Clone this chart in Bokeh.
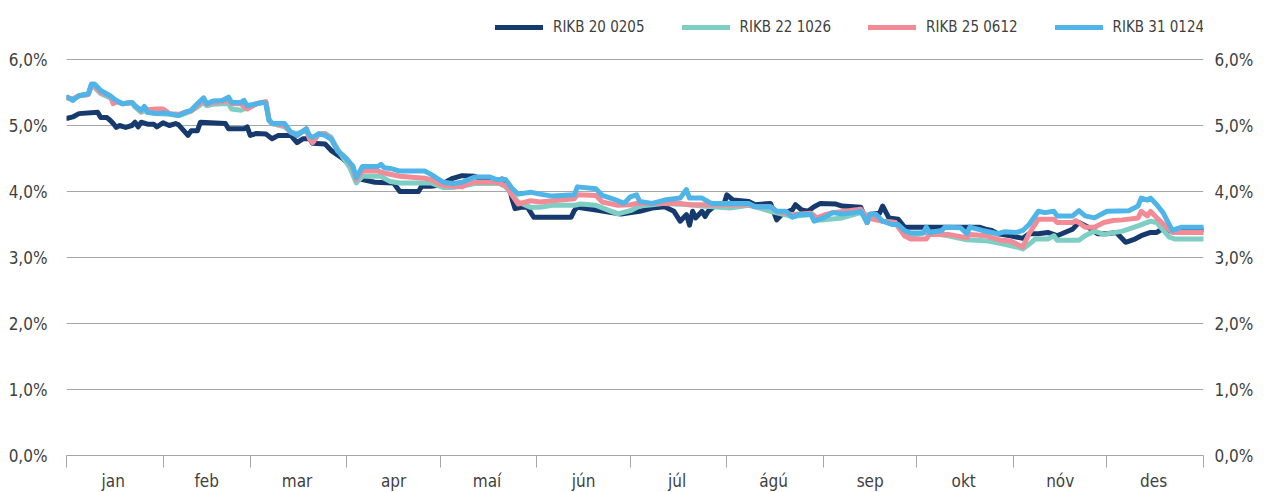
from bokeh.plotting import figure
from bokeh.models import (ColumnDataSource, FixedTicker, LinearAxis, Legend, LegendItem)
from bokeh.embed import file_html
from bokeh.resources import INLINE

# ---- data (x = day of year, y = yield in %) ----
months = ["jan", "feb", "mar", "apr", "maí", "jún", "júl", "ágú", "sep", "okt", "nóv", "des"]
month_starts = [0, 31, 59, 90, 120, 151, 181, 212, 243, 273, 304, 334, 365]
month_mids = [15, 45, 74, 105, 135, 166, 196, 227, 258, 288, 319, 349]
y_ticks = [0, 1, 2, 3, 4, 5, 6]
y_labels = ["0,0%", "1,0%", "2,0%", "3,0%", "4,0%", "5,0%", "6,0%"]

series_names = ["RIKB 20 0205", "RIKB 22 1026", "RIKB 25 0612", "RIKB 31 0124"]
series_colors = ["#173A6E", "#7FCEC4", "#F38B96", "#4FB4E7"]

rikb20_day = [0.3, 2, 4, 10, 11, 13, 14, 15, 16, 17, 19, 21, 22, 23, 24, 26, 28, 29, 31, 33, 35, 36, 39, 40, 42,
              43, 51, 52, 57, 58, 59, 61, 64, 66, 68, 72, 74, 76, 78, 79, 83, 85, 89, 91, 93, 95, 99, 105, 107, 113,
              114, 117, 120, 124, 127, 131, 133, 136, 138, 140, 142, 143, 144, 146, 148, 150, 162, 163, 164, 170,
              175, 178, 184, 188, 192, 195, 197, 199, 200, 201, 202, 204, 205, 206, 208, 211, 212, 214, 219, 221,
              226, 228, 230, 233, 234, 236, 238, 240, 242, 247, 249, 255, 257, 258, 261, 262, 264, 267, 269, 293,
              295, 297, 299, 303, 307, 309, 312, 315, 318, 322, 323, 325, 328, 331, 334, 337, 340, 343, 345, 348,
              350, 352, 354, 365]
rikb20_yield = [5.11, 5.13, 5.18, 5.20, 5.12, 5.12, 5.08, 5.03, 4.97, 5.00, 4.97, 5.00, 5.05, 4.98, 5.05, 5.02, 5.02,
                4.98, 5.04, 5.00, 5.03, 5.01, 4.85, 4.92, 4.92, 5.05, 5.03, 4.95, 4.95, 4.98, 4.85, 4.88, 4.87,
                4.80, 4.85, 4.85, 4.74, 4.80, 4.80, 4.73, 4.72, 4.62, 4.49, 4.39, 4.22, 4.18, 4.14, 4.13, 4.00,
                4.00, 4.08, 4.08, 4.10, 4.20, 4.24, 4.23, 4.19, 4.19, 4.17, 4.19, 4.10, 3.89, 3.74, 3.76, 3.76,
                3.61, 3.61, 3.71, 3.76, 3.72, 3.68, 3.66, 3.70, 3.75, 3.77, 3.70, 3.55, 3.65, 3.49, 3.70, 3.60,
                3.70, 3.62, 3.70, 3.78, 3.80, 3.95, 3.87, 3.85, 3.80, 3.82, 3.57, 3.67, 3.72, 3.80, 3.72, 3.70,
                3.77, 3.82, 3.81, 3.78, 3.76, 3.53, 3.65, 3.67, 3.78, 3.60, 3.58, 3.46, 3.46, 3.43, 3.41, 3.36,
                3.33, 3.29, 3.36, 3.36, 3.38, 3.33, 3.41, 3.43, 3.53, 3.46, 3.36, 3.36, 3.38, 3.23, 3.28, 3.33,
                3.38, 3.38, 3.44, 3.40, 3.42]

rikb22_day = [0.3, 2, 4, 7, 8, 9, 11, 14, 16, 18, 21, 22, 24, 25, 26, 29, 33, 36, 38, 40, 42, 44, 45, 47, 50, 52,
              53, 56, 58, 61, 64, 65, 66, 70, 72, 74, 77, 78, 79, 81, 83, 85, 87, 91, 93, 95, 101, 102, 104, 107,
              117, 121, 124, 128, 131, 139, 141, 145, 149, 152, 156, 163, 165, 170, 177, 181, 184, 188, 192, 200,
              204, 213, 219, 221, 226, 233, 239, 241, 243, 249, 255, 262, 266, 269, 271, 276, 283, 289, 296, 300,
              305, 307, 309, 311, 315, 317, 318, 325, 327, 330, 333, 339, 344, 348, 350, 354, 356, 365]
rikb22_yield = [5.42, 5.40, 5.45, 5.47, 5.60, 5.58, 5.48, 5.42, 5.36, 5.33, 5.35, 5.28, 5.20, 5.23, 5.20, 5.18, 5.17,
                5.15, 5.18, 5.22, 5.28, 5.35, 5.30, 5.32, 5.33, 5.33, 5.25, 5.23, 5.27, 5.33, 5.36, 5.10, 5.03,
                4.98, 4.90, 4.88, 4.92, 4.82, 4.80, 4.88, 4.88, 4.82, 4.64, 4.36, 4.13, 4.23, 4.23, 4.20, 4.15,
                4.13, 4.13, 4.06, 4.06, 4.09, 4.12, 4.12, 4.07, 3.84, 3.76, 3.76, 3.79, 3.79, 3.81, 3.79, 3.66,
                3.71, 3.78, 3.80, 3.82, 3.80, 3.78, 3.75, 3.79, 3.77, 3.70, 3.62, 3.65, 3.57, 3.57, 3.60, 3.68,
                3.55, 3.53, 3.36, 3.33, 3.38, 3.33, 3.27, 3.25, 3.21, 3.16, 3.13, 3.20, 3.28, 3.28, 3.33, 3.26,
                3.26, 3.33, 3.40, 3.35, 3.40, 3.48, 3.55, 3.53, 3.31, 3.28, 3.28]

rikb25_day = [0.3, 2, 4, 7, 8, 9, 11, 14, 15, 16, 18, 21, 22, 24, 25, 26, 29, 31, 33, 36, 38, 40, 42, 44, 45, 47,
              50, 52, 53, 56, 58, 61, 64, 65, 66, 70, 72, 74, 77, 78, 79, 81, 83, 85, 87, 90, 92, 93, 95, 100, 102,
              107, 115, 117, 121, 124, 127, 129, 131, 138, 141, 143, 145, 149, 152, 156, 163, 164, 170, 172, 177,
              181, 183, 188, 197, 200, 204, 219, 221, 226, 228, 233, 239, 241, 243, 246, 255, 257, 262, 266, 269,
              271, 276, 277, 283, 289, 290, 295, 300, 303, 307, 309, 312, 317, 318, 323, 324, 327, 330, 333, 336,
              339, 344, 345, 347, 348, 350, 355, 365]
rikb25_yield = [5.42, 5.40, 5.45, 5.47, 5.60, 5.60, 5.50, 5.45, 5.33, 5.36, 5.33, 5.35, 5.30, 5.22, 5.27, 5.24, 5.25,
                5.25, 5.18, 5.17, 5.20, 5.22, 5.30, 5.39, 5.32, 5.35, 5.36, 5.38, 5.33, 5.33, 5.25, 5.33, 5.36,
                5.08, 5.03, 5.00, 4.90, 4.85, 4.95, 4.80, 4.74, 4.87, 4.87, 4.80, 4.62, 4.49, 4.35, 4.18, 4.31,
                4.31, 4.28, 4.23, 4.20, 4.18, 4.09, 4.08, 4.07, 4.12, 4.14, 4.14, 4.09, 3.95, 3.81, 3.86, 3.84,
                3.86, 3.89, 3.95, 3.94, 3.84, 3.79, 3.80, 3.82, 3.82, 3.82, 3.80, 3.80, 3.80, 3.77, 3.77, 3.70,
                3.65, 3.67, 3.60, 3.64, 3.68, 3.73, 3.60, 3.55, 3.53, 3.33, 3.28, 3.28, 3.35, 3.35, 3.30, 3.35,
                3.33, 3.26, 3.25, 3.16, 3.36, 3.58, 3.58, 3.53, 3.53, 3.56, 3.46, 3.46, 3.53, 3.56, 3.57, 3.60,
                3.70, 3.63, 3.70, 3.60, 3.38, 3.38]

rikb31_day = [0.3, 2, 4, 7, 8, 9, 11, 14, 16, 18, 21, 22, 24, 25, 26, 29, 31, 33, 36, 38, 40, 42, 44, 45, 47, 50,
              52, 53, 56, 57, 58, 61, 63, 64, 65, 66, 70, 72, 74, 77, 78, 79, 81, 83, 85, 87, 90, 92, 93, 95, 100,
              101, 102, 104, 107, 115, 117, 121, 124, 127, 131, 136, 138, 141, 143, 145, 149, 152, 156, 163, 164,
              170, 172, 177, 179, 181, 183, 184, 188, 192, 197, 199, 200, 204, 207, 219, 221, 226, 228, 231, 233,
              235, 239, 240, 243, 246, 249, 253, 255, 257, 258, 260, 262, 265, 267, 269, 271, 275, 276, 277, 281,
              282, 287, 289, 290, 294, 299, 301, 305, 307, 309, 312, 314, 317, 318, 323, 325, 327, 330, 334, 341,
              344, 345, 347, 348, 350, 352, 355, 358, 365]
rikb31_yield = [5.43, 5.38, 5.45, 5.48, 5.63, 5.63, 5.53, 5.45, 5.38, 5.33, 5.35, 5.30, 5.23, 5.29, 5.20, 5.18, 5.19,
                5.18, 5.15, 5.20, 5.23, 5.33, 5.42, 5.33, 5.37, 5.38, 5.43, 5.35, 5.35, 5.38, 5.30, 5.33, 5.35,
                5.33, 5.08, 5.03, 5.03, 4.90, 4.85, 4.95, 4.85, 4.82, 4.87, 4.85, 4.79, 4.62, 4.49, 4.38, 4.21,
                4.38, 4.38, 4.41, 4.36, 4.35, 4.31, 4.31, 4.26, 4.14, 4.12, 4.14, 4.22, 4.22, 4.18, 4.18, 4.05,
                3.96, 3.99, 3.96, 3.93, 3.95, 4.07, 4.04, 3.94, 3.86, 3.82, 3.92, 3.95, 3.85, 3.82, 3.87, 3.90,
                4.03, 3.90, 3.90, 3.82, 3.82, 3.77, 3.77, 3.70, 3.70, 3.61, 3.65, 3.65, 3.55, 3.60, 3.68, 3.66,
                3.68, 3.70, 3.53, 3.66, 3.65, 3.55, 3.50, 3.50, 3.41, 3.37, 3.37, 3.46, 3.38, 3.41, 3.46, 3.45,
                3.36, 3.46, 3.41, 3.36, 3.39, 3.38, 3.41, 3.50, 3.70, 3.68, 3.70, 3.63, 3.63, 3.71, 3.63, 3.60,
                3.70, 3.71, 3.78, 3.90, 3.87, 3.90, 3.80, 3.68, 3.41, 3.46, 3.46]

all_days = [rikb20_day, rikb22_day, rikb25_day, rikb31_day]
all_yields = [rikb20_yield, rikb22_yield, rikb25_yield, rikb31_yield]

# ---- styling ----
FONT = "DejaVu Sans Condensed"
TEXT = "#3F3F3F"
GRID = "#A6A6A6"
PX_PER_PCT = 66
FRAME_H = 449  # frame reaches above the 6% gridline to host the legend

p = figure(frame_width=1137, frame_height=FRAME_H, output_backend="svg", toolbar_location=None,
           x_range=(0, 365), y_range=(0, FRAME_H / PX_PER_PCT),
           min_border_left=66, min_border_right=59, min_border_top=6, min_border_bottom=30)
p.outline_line_color = None
p.background_fill_color = "white"
p.border_fill_color = "white"

items = []
for name, col, xs, ys in zip(series_names, series_colors, all_days, all_yields):
    src = ColumnDataSource(dict(x=xs, y=ys))
    r = p.line("x", "y", source=src, line_color=col, line_width=5,
               line_join="round", line_cap="round")
    items.append(LegendItem(label=name, renderers=[r]))

# x axis: month labels centred, boundary ticks as minor ticks
xa = p.xaxis[0]
xa.ticker = FixedTicker(ticks=month_mids, minor_ticks=month_starts)
xa.major_label_overrides = {m: lab for m, lab in zip(month_mids, months)}
xa.major_tick_line_color = None
xa.major_tick_out = 0
xa.major_tick_in = 0
xa.minor_tick_line_color = GRID
xa.minor_tick_out = 12
xa.minor_tick_in = 0
xa.axis_line_color = GRID
xa.major_label_standoff = 3
xa.major_label_text_font = FONT
xa.major_label_text_font_size = "17px"
xa.major_label_text_color = TEXT
p.xgrid.visible = False

# y axes
ya = p.yaxis[0]
ya.ticker = FixedTicker(ticks=y_ticks)
ya.major_label_overrides = {t: lab for t, lab in zip(y_ticks, y_labels)}
yr = LinearAxis(ticker=FixedTicker(ticks=y_ticks))
yr.major_label_overrides = {t: lab for t, lab in zip(y_ticks, y_labels)}
p.add_layout(yr, "right")
for ax, st in ((ya, 13), (yr, 5)):
    ax.axis_line_color = None
    ax.major_tick_line_color = None
    ax.minor_tick_line_color = None
    ax.major_label_standoff = st
    ax.major_label_text_font = FONT
    ax.major_label_text_font_size = "17px"
    ax.major_label_text_color = TEXT

p.ygrid.ticker = FixedTicker(ticks=y_ticks)
p.ygrid.grid_line_color = GRID
p.ygrid.grid_line_width = 1

legend = Legend(items=items, orientation="horizontal", location=(429, 418),
                glyph_width=48, glyph_height=20, label_standoff=10, spacing=37,
                padding=0, margin=0, border_line_color=None, background_fill_alpha=0,
                label_text_font=FONT, label_text_font_size="15px", label_text_color=TEXT)
p.add_layout(legend, "center")

open("out.html", "w").write(file_html(p, INLINE))
